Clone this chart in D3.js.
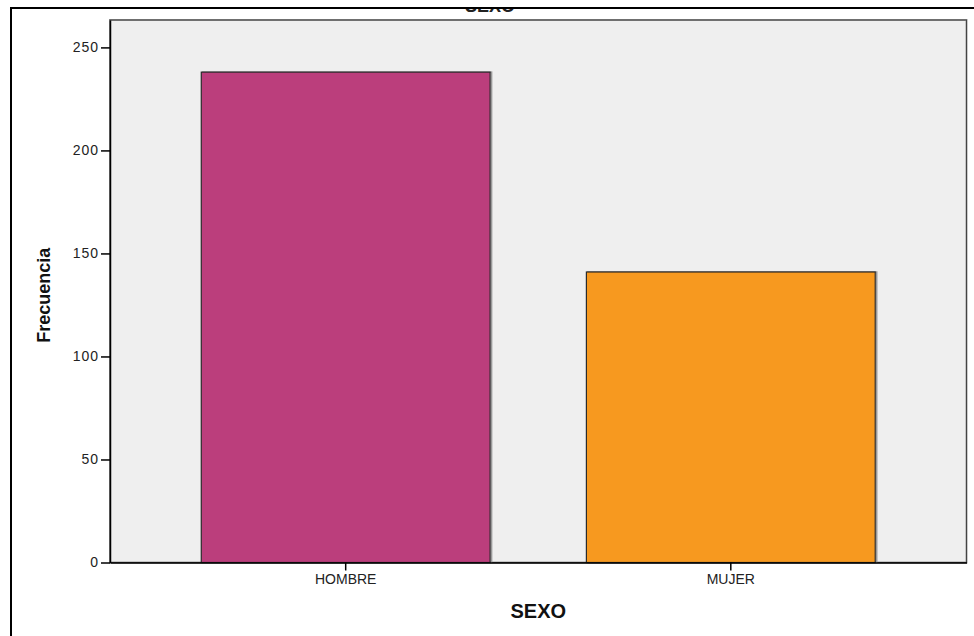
<!DOCTYPE html>
<html>
<head>
<meta charset="utf-8">
<script src="https://cdn.jsdelivr.net/npm/d3@7"></script>
<style>
  html, body { margin: 0; padding: 0; background: #ffffff; }
  svg { display: block; }
  text { font-family: "Liberation Sans", Arial, sans-serif; }
</style>
</head>
<body>
<script>
// ---- Data ----
const categories = ["HOMBRE", "MUJER"];
const frequencies = [238, 141];
const barColors = ["#BB3E7C", "#F7991F"];
const yTicks = [0, 50, 100, 150, 200, 250];
const chartTitle = "SEXO";
const xAxisTitle = "SEXO";
const yAxisTitle = "Frecuencia";

// ---- Layout ----
const W = 974, H = 636;
const plot = { left: 110, right: 966.5, top: 20, bottom: 562.5 };

const svg = d3.select("body").append("svg")
  .attr("width", W).attr("height", H);

// Clipped title (mostly cut off at the top in the reference)
svg.append("defs").append("clipPath").attr("id", "titleClip")
  .append("rect").attr("x", 0).attr("y", 9).attr("width", W).attr("height", 20);
svg.append("text")
  .attr("clip-path", "url(#titleClip)")
  .attr("x", 490).attr("y", 11.5)
  .attr("text-anchor", "middle")
  .attr("font-size", 18).attr("font-weight", "bold")
  .attr("fill", "#222")
  .text(chartTitle);

// Outer frame (left + top visible)
svg.append("line").attr("x1", 11).attr("x2", 11).attr("y1", 8).attr("y2", H)
  .attr("stroke", "#000").attr("stroke-width", 2);
svg.append("line").attr("x1", 10).attr("x2", W).attr("y1", 8).attr("y2", 8)
  .attr("stroke", "#000").attr("stroke-width", 2);

// Scales
const x = d3.scaleBand().domain(categories)
  .range([plot.left, plot.right])
  .paddingInner(0.25).paddingOuter(0.237);
const y = d3.scaleLinear().domain([0, 263.3])
  .range([plot.bottom, plot.top]);

// Plot background
svg.append("rect")
  .attr("x", plot.left).attr("y", plot.top)
  .attr("width", plot.right - plot.left).attr("height", plot.bottom - plot.top)
  .attr("fill", "#EFEFEF").attr("stroke", "#9a9a9a").attr("stroke-width", 2);
svg.append("rect")
  .attr("x", plot.left).attr("y", plot.top)
  .attr("width", plot.right - plot.left).attr("height", plot.bottom - plot.top)
  .attr("fill", "none").attr("stroke", "#444").attr("stroke-width", 1);

// Bars: shadow then bar
const bars = categories.map((c, i) => ({ c, v: frequencies[i], col: barColors[i] }));
svg.append("g").selectAll("rect").data(bars).join("rect")
  .attr("x", d => x(d.c) + 1.5).attr("y", d => y(d.v))
  .attr("width", x.bandwidth()).attr("height", d => y(0) - y(d.v))
  .attr("fill", "none").attr("stroke", "#999").attr("stroke-width", 1.5);
svg.append("g").selectAll("rect").data(bars).join("rect")
  .attr("x", d => x(d.c)).attr("y", d => y(d.v))
  .attr("width", x.bandwidth()).attr("height", d => y(0) - y(d.v))
  .attr("fill", d => d.col).attr("stroke", "#2a2a2a").attr("stroke-width", 1.2);

// Y axis
const yAxis = d3.axisLeft(y).tickValues(yTicks).tickSize(9).tickSizeOuter(0).tickPadding(2)
  .tickFormat(d3.format("d"));
const gy = svg.append("g").attr("transform", `translate(${plot.left},0)`).call(yAxis);
gy.select(".domain").attr("stroke", "#000").attr("stroke-width", 1.5);
gy.selectAll(".tick line").attr("stroke", "#000").attr("stroke-width", 1.5);
gy.selectAll(".tick text").attr("font-size", 14).attr("fill", "#222")
  .attr("font-family", "Liberation Sans, Arial, sans-serif")
  .attr("letter-spacing", 1);

// X axis
const xAxis = d3.axisBottom(x).tickSize(8).tickPadding(4).tickSizeOuter(0);
const gx = svg.append("g").attr("transform", `translate(0,${plot.bottom})`).call(xAxis);
gx.select(".domain").attr("stroke", "#000").attr("stroke-width", 1.5);
gx.selectAll(".tick line").attr("stroke", "#000").attr("stroke-width", 1.5);
gx.selectAll(".tick text").attr("font-size", 14).attr("fill", "#222")
  .attr("font-family", "Liberation Sans, Arial, sans-serif");

// Axis titles
svg.append("text")
  .attr("x", (plot.left + plot.right) / 2).attr("y", 618)
  .attr("text-anchor", "middle")
  .attr("font-size", 20).attr("font-weight", "bold").attr("fill", "#111")
  .text(xAxisTitle);
svg.append("text")
  .attr("transform", `translate(50,${(plot.top + plot.bottom) / 2 + 4}) rotate(-90)`)
  .attr("text-anchor", "middle")
  .attr("font-size", 18).attr("font-weight", "bold").attr("fill", "#111")
  .text(yAxisTitle);
</script>
</body>
</html>
